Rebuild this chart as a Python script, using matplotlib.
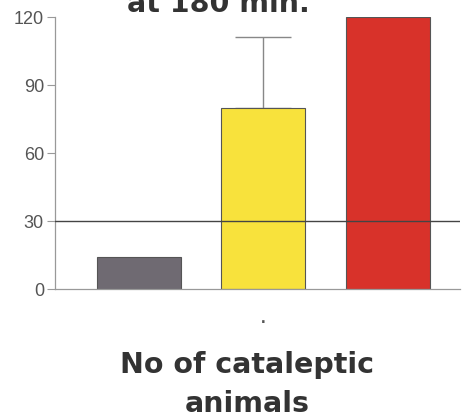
import matplotlib
matplotlib.use("Agg")
import matplotlib.pyplot as plt

categories = ["A", "B", "C"]
values = [14, 80, 120]
err_upper = [0, 31, 0]
colors = ["#6f6a72", "#f8e23c", "#d8322a"]
yticks = [0, 30, 60, 90, 120]
threshold = 30

plt.rcParams['font.family'] = ['Liberation Sans', 'DejaVu Sans']
W, H = 466, 419
fig = plt.figure(figsize=(W / 100, H / 100), dpi=100)
ax = fig.add_axes([55 / W, 1 - 289 / H, 405 / W, 272 / H])
x = list(range(len(categories)))
ax.bar(x, values, width=0.675, color=colors, edgecolor="#555555", linewidth=0.8, zorder=2)
ax.errorbar([x[1]], [values[1]], yerr=[[0], [err_upper[1]]], fmt="none",
            ecolor="#888888", elinewidth=1.0, capsize=20, capthick=1.0, zorder=1)
ax.axhline(threshold, color="#444444", linewidth=1.0, zorder=3)
ax.set_xlim(-0.675, 2.58)
ax.set_ylim(0, 120)
ax.set_yticks(yticks)
ax.set_xticks([])
ax.tick_params(axis="y", colors="#999999", labelcolor="#555555", labelsize=13,
               length=6, width=0.8, pad=2)
for s in ["top", "right"]:
    ax.spines[s].set_visible(False)
for s in ["left", "bottom"]:
    ax.spines[s].set_color("#999999")
    ax.spines[s].set_linewidth(0.9)

bold = dict(ha="center", va="baseline", fontsize=20.5, fontweight="bold",
            color="#333333", family=["DejaVu Sans"])
fig.text(263 / W, 1 - 318 / H, ".", ha="center", va="center", fontsize=12,
         fontweight="bold", color="#555555")
fig.text(247.5 / W, 1 - 373 / H, "No of cataleptic", **bold)
fig.text(247.5 / W, 1 - 412 / H, "animals", **bold)
fig.text(218 / W, 1 - 12 / H, "at 180 min.", **bold)
fig.savefig("out.png", dpi=100)
